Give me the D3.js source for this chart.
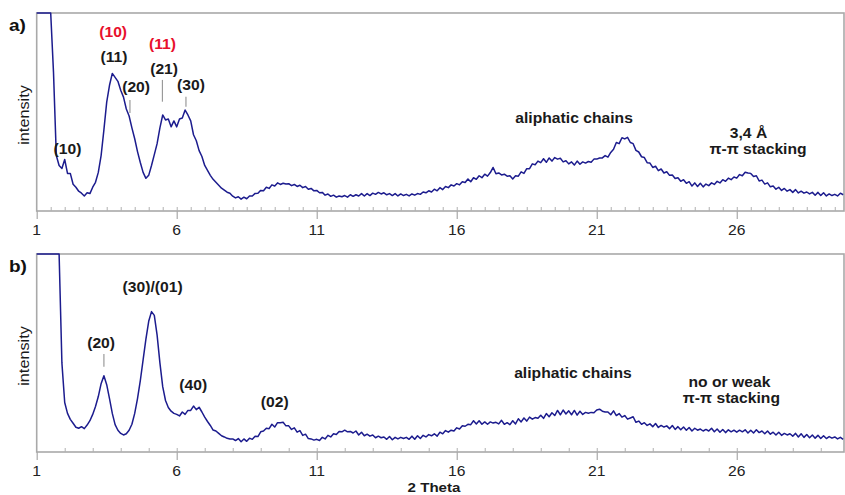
<!DOCTYPE html>
<html><head><meta charset="utf-8">
<script src="https://cdn.jsdelivr.net/npm/d3@7"></script>
<style>
body{margin:0;background:#fff}
svg{display:block}
text{font-family:"Liberation Sans",Arial,Helvetica,sans-serif}
</style>
</head><body>
<svg id="chart" width="845" height="495"></svg>
<script>
// ---------- DATA ----------
// 2-theta sampling of the diffractograms (constant step)
const thetaStart = 1.0;
const thetaStep = 0.1;

// panel a) intensity, arbitrary units (100 = top of the plot, higher values are clipped)
const intensityA = [
  250,250,250,250,250,250,70,28,23,21.5,
  26,19,19,13.5,12,10,9,7.6,9.2,8.8,
  12,14.5,19.5,28,41,55,63.5,69.5,67.5,65.5,
  61,57.5,51.5,48,42,36.5,30,24.5,19.5,16.5,
  18,23,28.5,34,42,48.5,46,46.5,42.5,45.5,
  42.5,46.5,47,51,48.5,45.5,38.5,35.5,30.5,27.5,
  23,20.5,18,16,14.5,13,11.5,10.5,9.5,9,
  7.5,6.6,7.2,6.0,7.0,6.2,7.6,7.6,8.9,9.0,
  10.4,10.2,12.0,11.4,13.2,12.6,14.2,13.4,14.0,13.6,
  13.8,12.8,13.4,12.4,13.0,11.8,12.4,11.0,11.4,10.2,
  10.4,9.2,9.4,8.0,8.6,7.4,8.0,7.0,7.6,7.2,
  7.8,7.0,8.2,7.4,8.2,7.6,8.8,7.6,8.8,7.8,
  9.0,8.4,9.4,8.6,9.2,8.2,8.8,7.8,8.8,7.6,
  8.6,7.8,8.4,7.6,8.6,8.0,8.8,8.4,9.6,9.2,
  10.2,9.6,11.0,10.2,11.8,10.8,12.4,11.8,13.2,12.6,
  13.8,13.2,14.8,14.4,16.2,14.8,16.8,16.0,17.8,16.8,
  18.6,17.6,19.4,22,18.8,19.2,18.2,18.6,17.6,17.8,
  16.2,17.8,17.6,19.8,19.0,21.4,21.4,23.8,23.4,25.2,
  24.4,26.4,24.6,26.8,25.2,27.0,26.2,26.6,24.8,25.4,
  23.8,24.8,23.2,25.2,23.6,24.8,24.2,25.0,24.6,26.2,
  26.2,26.8,26.8,28.0,27.2,29.6,31.2,34.6,34.0,37.0,
  36.4,37.2,34.6,34.0,30.6,29.8,27.4,27.0,24.4,24.2,
  22.0,22.6,20.4,21.2,19.2,19.8,18.0,18.2,16.4,16.8,
  15.0,15.8,14.0,14.8,12.6,14.2,12.4,14.0,12.2,13.6,
  12.8,14.2,13.4,15.0,14.2,15.8,15.0,16.6,15.8,17.2,
  16.6,18.4,17.8,19.6,19.2,19.0,17.4,17.8,15.2,15.6,
  13.6,14.2,12.2,12.6,11.0,12.0,10.4,11.4,10.0,10.8,
  9.4,10.8,9.1,10.0,9.0,9.6,8.6,9.4,8.0,9.4,
  7.8,9.2,7.6,8.6,7.8,8.4,7.6,9.0,8.2
];

// panel b) intensity
const intensityB = [
  250,250,250,250,250,250,250,250,250,45,
  25,19.5,16.5,14.5,12.5,12,12.8,11.8,13.6,15.8,
  19,23,28,34.5,38.5,34,27,19.5,13.8,11,
  9.4,8.6,9.2,11,14,19.5,27,36,46.5,57,
  66,70.9,69,59,45,33,26,22.5,20.6,19.5,
  19,18.2,20.2,19,21,21,23.2,21.4,22.6,20.2,
  17.6,15.4,13.4,11.1,10.6,9.4,8.2,7.6,6.9,6.6,
  6.6,5.8,6.8,5.2,6.6,5.4,7.0,6.4,8.0,7.8,
  10.2,10.6,12.0,11.8,14.0,12.6,14.8,14.8,15.0,13.2,
  13.2,11.4,12.2,10.0,10.8,8.4,9.0,6.8,6.6,6.0,
  6.4,5.8,7.4,6.6,8.4,7.6,9.2,8.8,10.4,10.2,
  11.0,10.2,10.4,9.6,10.6,8.6,10.0,8.2,9.0,8.0,
  8.6,7.2,8.0,7.2,7.6,6.4,7.8,6.2,7.4,6.6,
  7.4,6.8,7.4,6.4,8.0,6.4,8.2,6.8,8.4,7.6,
  8.8,8.2,9.2,8.0,10.0,9.2,10.8,10.0,11.0,10.6,
  12.2,11.6,13.2,13.0,14.0,13.8,15.8,14.2,15.8,14.0,
  15.2,14.0,15.2,14.6,15.0,14.2,16.0,14.0,14.8,13.8,
  15.8,14.2,16.8,15.2,17.2,15.6,17.6,16.6,17.4,17.0,
  18.6,17.0,19.4,17.8,19.8,18.4,21.0,18.8,21.2,19.2,
  20.8,18.8,21.0,18.6,20.6,19.0,20.0,19.6,20.0,19.8,
  21.2,21.6,20.6,20.2,20.2,18.8,20.8,18.4,19.4,17.6,
  18.4,16.6,17.2,17.8,15.0,15.6,14.0,14.8,13.4,14.2,
  12.8,14.4,12.4,13.4,12.6,13.2,11.8,13.4,11.4,12.8,
  11.2,12.6,11.0,12.4,10.6,12.0,11.0,11.6,10.6,11.4,
  10.6,12.0,10.2,11.6,10.0,11.4,9.8,11.2,10.2,11.0,
  10.0,11.0,10.2,11.2,9.6,11.0,9.6,11.2,9.8,10.6,
  9.2,10.6,9.0,10.0,8.6,10.0,8.4,9.4,8.6,9.2,
  8.0,9.4,7.6,9.2,7.4,8.8,7.2,8.6,7.0,8.4,
  6.8,8.2,6.8,7.8,7.0,7.6,6.6,7.4,6.4
];

const xTickLabels = [1, 6, 11, 16, 21, 26];

// peak annotations: [text, 2theta, intensity, colour-key]
const peaksA = [
  ["(10)", 2.1, 28.8, "k"],
  ["(10)", 3.73, 87.9, "r"],
  ["(11)", 3.76, 75.3, "k"],
  ["(20)", 4.55, 60.1, "k"],
  ["(11)", 5.49, 82.0, "r"],
  ["(21)", 5.55, 69.2, "k"],
  ["(30)", 6.51, 61.1, "k"],
  ["aliphatic chains", 20.19, 44.2, "k"],
  ["3,4 Å", 26.42, 36.9, "k"],
  ["π-π stacking", 26.76, 28.8, "k"]
];
// marker lines: [2theta, from intensity, to intensity]
const markersA = [[4.33, 56.1, 49.5], [5.49, 66.2, 55.2], [6.33, 57.7, 52.7]];

const peaksB = [
  ["(20)", 3.3, 52.3, "k"],
  ["(30)/(01)", 5.14, 80.8, "k"],
  ["(40)", 6.59, 31.3, "k"],
  ["(02)", 9.5, 22.7, "k"],
  ["aliphatic chains", 20.15, 37.4, "k"],
  ["no or weak", 25.74, 32.8, "k"],
  ["π-π stacking", 25.81, 24.7, "k"]
];
const markersB = [[3.4, 49.5, 43.1]];

// ---------- DRAWING ----------
const svg = d3.select("#chart");
const left = 36.7, right = 844;
const xScale = d3.scaleLinear().domain([1, 29.83]).range([left, right]);
const colours = {k: "#1a1a1a", r: "#e8102c"};
const stretch = 1.12;

function stretchedText(g, txt, x, y, size, weight, fill, anchor) {
  return g.append("text")
    .attr("transform", `translate(${x},${y}) scale(${stretch},1)`)
    .attr("text-anchor", anchor || "middle")
    .attr("font-size", size)
    .attr("font-weight", weight)
    .attr("fill", fill)
    .text(txt);
}

function panel(cfg) {
  const g = svg.append("g");
  const y = d3.scaleLinear().domain([0, 100]).range([cfg.bottom, cfg.top]).clamp(true);

  g.append("rect")
    .attr("x", left).attr("y", cfg.top)
    .attr("width", right - left).attr("height", cfg.bottom - cfg.top)
    .attr("fill", "none").attr("stroke", "#a9a9a9").attr("stroke-width", 1.6);

  const minorAxis = d3.axisTop(xScale).tickValues(cfg.minor).tickSize(4).tickFormat("");
  const ma = g.append("g").attr("transform", `translate(0,${cfg.bottom})`).call(minorAxis);
  ma.select(".domain").remove();
  ma.selectAll("line").attr("stroke", "#b0b0b0").attr("stroke-width", 1);

  const majorAxis = d3.axisBottom(xScale).tickValues(xTickLabels).tickSize(8).tickFormat("");
  const mj = g.append("g").attr("transform", `translate(0,${cfg.bottom})`).call(majorAxis);
  mj.select(".domain").remove();
  mj.selectAll("line").attr("stroke", "#a9a9a9").attr("stroke-width", 1.2);

  xTickLabels.forEach(v => {
    stretchedText(g, String(v), xScale(v), cfg.bottom + 24, 14, "normal", "#222");
  });

  const line = d3.line()
    .x((d, i) => xScale(thetaStart + i * thetaStep))
    .y(d => y(d));
  g.append("path")
    .datum(cfg.data)
    .attr("d", line)
    .attr("fill", "none")
    .attr("stroke", "#1c1c8e")
    .attr("stroke-width", 1.5)
    .attr("stroke-linejoin", "round");

  cfg.markers.forEach(m => {
    g.append("line")
      .attr("x1", xScale(m[0])).attr("x2", xScale(m[0]))
      .attr("y1", y(m[1])).attr("y2", y(m[2]))
      .attr("stroke", "#9a9a9a").attr("stroke-width", 1.2);
  });

  cfg.peaks.forEach(p => {
    stretchedText(g, p[0], xScale(p[1]), y(p[2]), 14, "bold", colours[p[3]]);
  });

  stretchedText(g, cfg.letter, 9, cfg.top + 18, 17, "bold", "#111", "start");

  g.append("text")
    .attr("transform", `translate(29,${(cfg.top + cfg.bottom) / 2 + 3}) rotate(-90) scale(${stretch},1)`)
    .attr("text-anchor", "middle")
    .attr("font-size", 14.5)
    .attr("fill", "#1a1a1a")
    .text("intensity");
}

panel({top: 13, bottom: 211, data: intensityA, peaks: peaksA, markers: markersA,
       minor: d3.range(1.5, 29.8, 0.5), letter: "a)"});
panel({top: 254, bottom: 452, data: intensityB, peaks: peaksB, markers: markersB,
       minor: d3.range(2, 29.8, 1), letter: "b)"});

stretchedText(svg, "2 Theta", 434, 492, 13.5, "bold", "#1a1a1a");
</script>
</body></html>
